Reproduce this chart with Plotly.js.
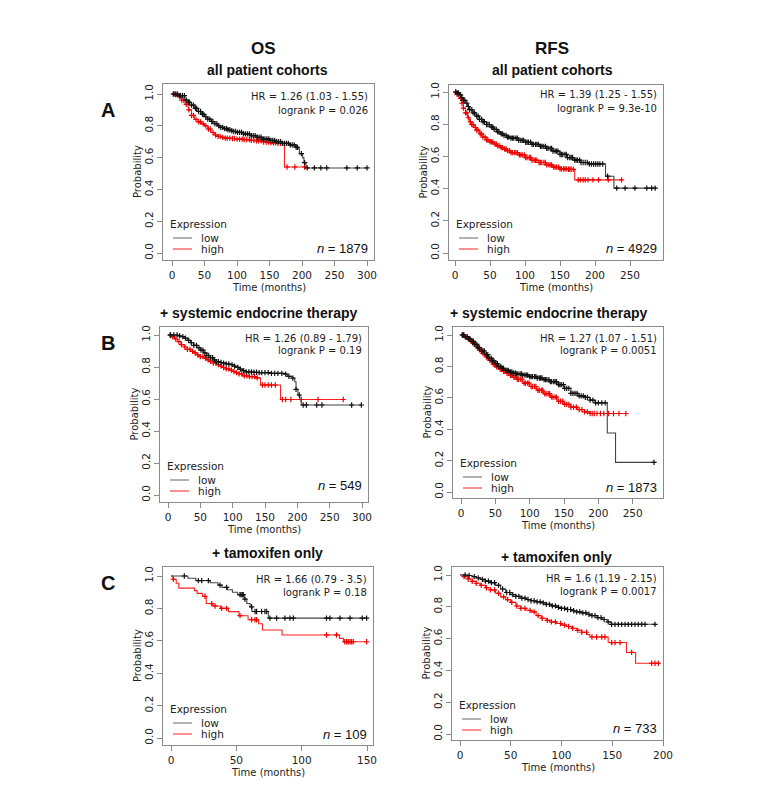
<!DOCTYPE html>
<html><head><meta charset="utf-8">
<script src="https://cdn.plot.ly/plotly-3.0.1.min.js"></script>
<style>html,body{margin:0;padding:0;background:#fff}#chart{width:760px;height:794px}</style>
</head><body><div id="chart"></div><script>
// ---------------- DATA ----------------
const columnTitles = ['OS', 'RFS'];
const rowLetters = ['A', 'B', 'C'];
const rowTitles = ['all patient cohorts', '+ systemic endocrine therapy', '+ tamoxifen only'];
const groupNames = ['low', 'high'];
const hrTexts = ['HR = 1.26 (1.03 - 1.55)', 'HR = 1.39 (1.25 - 1.55)', 'HR = 1.26 (0.89 - 1.79)', 'HR = 1.27 (1.07 - 1.51)', 'HR = 1.66 (0.79 - 3.5)', 'HR = 1.6 (1.19 - 2.15)'];
const pTexts = ['logrank P = 0.026', 'logrank P = 9.3e-10', 'logrank P = 0.19', 'logrank P = 0.0051', 'logrank P = 0.18', 'logrank P = 0.0017'];
const nValues = [1879, 4929, 549, 1873, 109, 733];
const xTicks300 = [0, 50, 100, 150, 200, 250, 300];
const xTicks250 = [0, 50, 100, 150, 200, 250];
const xTicks150 = [0, 50, 100, 150];
const xTicks200 = [0, 50, 100, 150, 200];
const yTickVals = [0, 0.2, 0.4, 0.6, 0.8, 1.0];
const yTickText = ['0.0', '0.2', '0.4', '0.6', '0.8', '1.0'];

// A - OS
const A_OS_low_t = [0,10,20,25,30,35,40,45,50,55,60,65,70,75,80,85,90,95,100,110,120,130,140,150,160,170,180,190,195,196,201,203,206,300];
const A_OS_low_s = [1,0.99,0.962,0.948,0.93,0.91,0.89,0.872,0.857,0.842,0.827,0.813,0.80,0.79,0.782,0.775,0.769,0.764,0.759,0.749,0.738,0.728,0.718,0.708,0.70,0.69,0.68,0.665,0.655,0.625,0.598,0.568,0.535,0.535];
const A_OS_low_c = [2,5,8,11,13,16,19,22,25,27,30,33,36,38,41,44,47,49,52,55,58,61,63,66,69,72,75,78,81,84,86,89,92,95,98,101,104,107,110,113,116,119,122,125,128,131,134,137,140,143,146,149,152,155,158,161,164,167,170,173,176,179,182,185,188,191,193,199,204,208,219,229,238,269,285,300];
const A_OS_high_t = [0,5,10,15,20,25,30,35,40,45,50,55,60,65,70,75,80,90,100,110,120,130,140,150,160,172,173,206];
const A_OS_high_s = [1,0.995,0.985,0.962,0.935,0.90,0.865,0.84,0.825,0.812,0.80,0.78,0.758,0.742,0.733,0.727,0.723,0.72,0.716,0.713,0.709,0.705,0.698,0.693,0.689,0.684,0.541,0.541];
const A_OS_high_c = [3,6,9,12,15,18,22,26,30,33,37,41,44,48,52,56,59,63,67,71,74,78,82,85,89,93,96,100,104,108,111,115,119,122,126,130,133,137,141,145,148,152,156,159,163,167,170,177,189,204];

// A - RFS
const A_RFS_low_t = [0,3,6,9,12,15,18,21,25,30,35,40,45,50,55,60,65,70,75,80,90,100,110,120,130,140,150,160,170,180,190,215,227,287];
const A_RFS_low_s = [1,0.995,0.982,0.965,0.948,0.93,0.91,0.89,0.87,0.85,0.83,0.815,0.798,0.783,0.768,0.752,0.74,0.73,0.72,0.714,0.70,0.688,0.675,0.662,0.65,0.633,0.612,0.593,0.577,0.562,0.553,0.477,0.403,0.403];
const A_RFS_low_c = [1,3,5,8,10,12,14,17,19,21,24,26,28,31,33,35,38,40,42,45,47,49,52,54,56,59,61,63,66,68,70,73,75,77,80,82,84,87,89,91,94,96,98,101,103,105,108,110,112,115,117,119,122,124,126,129,131,133,136,138,140,143,145,147,150,152,154,157,159,161,164,166,168,171,173,175,178,180,183,186,189,192,195,198,201,204,207,211,218,231,243,257,274,281,286];
const A_RFS_high_t = [0,3,6,9,12,15,18,21,24,27,30,35,40,45,50,55,60,65,70,75,80,90,100,110,120,130,140,150,160,170,171,238];
const A_RFS_high_s = [1,0.985,0.96,0.93,0.90,0.87,0.84,0.815,0.797,0.78,0.763,0.74,0.72,0.703,0.69,0.677,0.665,0.655,0.646,0.636,0.624,0.61,0.593,0.576,0.562,0.547,0.533,0.523,0.52,0.517,0.454,0.454];
const A_RFS_high_c = [1,3,5,8,10,12,15,17,19,22,24,26,29,31,33,36,38,40,43,45,47,50,52,54,57,59,61,64,66,68,71,73,75,78,80,82,85,87,89,92,94,96,99,101,103,106,108,110,113,115,117,120,122,124,127,129,131,134,136,138,141,143,145,148,150,152,155,157,159,162,164,166,169,176,179,183,186,190,197,205,219,238];

// B - OS
const B_OS_low_t = [0,15,20,25,30,35,40,45,50,55,60,65,70,75,80,85,90,95,100,105,110,115,120,130,140,160,180,185,192,196,198,201,204,206,300];
const B_OS_low_s = [1,0.995,0.99,0.98,0.967,0.952,0.935,0.92,0.905,0.888,0.872,0.858,0.845,0.833,0.828,0.824,0.82,0.815,0.806,0.798,0.787,0.777,0.77,0.767,0.765,0.76,0.755,0.742,0.73,0.708,0.66,0.625,0.595,0.5625,0.5625];
const B_OS_low_c = [4,9,14,18,23,27,32,36,40,44,48,51,54,57,60,63,66,69,72,75,78,82,86,90,94,99,103,108,112,117,121,125,129,133,137,141,145,150,155,160,165,170,176,182,187,193,198,203,209,214,230,238,284,299];
const B_OS_high_t = [0,5,10,15,20,25,30,35,40,45,50,55,60,65,70,75,80,85,90,95,100,105,110,115,125,135,143,174,271];
const B_OS_high_s = [1,0.99,0.975,0.958,0.94,0.925,0.91,0.898,0.888,0.876,0.865,0.855,0.845,0.835,0.825,0.815,0.805,0.797,0.788,0.78,0.772,0.765,0.757,0.745,0.74,0.732,0.6875,0.597,0.597];
const B_OS_high_c = [3,7,12,17,21,26,30,34,38,42,46,50,54,58,62,66,70,74,78,82,86,90,94,98,102,106,110,114,118,122,126,130,134,138,146,150,155,160,166,177,182,190,206,232,271];

// B - RFS
const B_RFS_low_t = [0,5,10,15,20,25,30,35,40,45,50,55,60,65,70,75,80,90,100,110,120,130,140,150,160,170,180,188,195,213,225,282];
const B_RFS_low_s = [1,0.99,0.975,0.96,0.94,0.918,0.898,0.875,0.853,0.835,0.817,0.80,0.787,0.775,0.765,0.758,0.752,0.744,0.735,0.726,0.716,0.703,0.684,0.66,0.628,0.612,0.603,0.585,0.568,0.376,0.189,0.189];
const B_RFS_low_c = [2,4,6,9,11,13,16,18,20,23,25,27,30,32,34,37,39,41,44,46,48,51,53,55,58,60,62,65,67,69,72,74,76,79,81,83,86,88,90,93,95,97,100,102,104,107,109,111,114,116,118,121,123,125,128,130,132,135,137,139,142,144,146,149,151,154,157,160,163,166,169,172,175,178,181,184,188,192,196,200,205,210,281];
const B_RFS_high_t = [0,5,10,15,20,25,30,35,40,45,50,55,60,65,70,75,80,90,100,110,120,130,140,150,160,170,180,188,240];
const B_RFS_high_s = [1,0.985,0.97,0.95,0.928,0.905,0.882,0.86,0.838,0.815,0.797,0.782,0.768,0.755,0.743,0.73,0.718,0.694,0.672,0.648,0.626,0.604,0.578,0.558,0.54,0.525,0.51,0.50,0.50];
const B_RFS_high_c = [2,4,7,9,12,14,17,19,22,24,27,29,32,34,37,39,42,44,47,49,52,54,57,59,62,64,67,69,72,74,77,79,82,84,87,89,92,94,97,99,102,104,107,109,112,114,117,119,122,124,127,129,132,134,137,139,142,145,148,151,154,157,160,164,168,172,176,180,184,188,191,194,198,203,208,215,222,230,240];

// C - OS
const C_OS_low_t = [0,13,19,30,36,39,43,47,51,56,58,60.5,62,74.5,150];
const C_OS_low_s = [1,0.986,0.972,0.958,0.944,0.93,0.915,0.90,0.885,0.857,0.83,0.81,0.781,0.74,0.74];
const C_OS_low_c = [10.2,20.9,23.5,28.6,37.5,42.6,52.8,53.6,54.6,55.3,56.6,61.7,64.3,65.5,69.4,71.9,73.2,75.7,80.8,87.2,91,93.6,119,121.6,129.3,137,146.4,149.7];
const C_OS_high_t = [0,1.5,4,6,18,20,24,27,32,38,44,52,59,67,70,85,129,132,150];
const C_OS_high_s = [1,0.98,0.955,0.925,0.91,0.893,0.875,0.83,0.815,0.80,0.78,0.755,0.73,0.705,0.667,0.636,0.615,0.594,0.594];
const C_OS_high_c = [1.8,26,31.1,33.7,38.8,42.6,52.8,61.7,64.3,65.5,119,126.7,133,134.4,135.7,137,138.2,139.5,149.7];

// C - RFS
const C_RFS_low_t = [0,8,12,16,20,25,30,35,40,45,50,55,60,65,70,75,80,85,90,95,100,105,110,115,120,125,130,135,140,145,149,193];
const C_RFS_low_s = [1,0.997,0.99,0.982,0.973,0.962,0.952,0.935,0.912,0.89,0.877,0.866,0.855,0.846,0.838,0.831,0.825,0.815,0.806,0.797,0.79,0.783,0.775,0.768,0.762,0.753,0.745,0.732,0.72,0.705,0.69,0.69];
const C_RFS_low_c = [5,9,14,18,22,25,28,31,34,38,42,46,49,52,55,58,61,64,67,70,73,76,79,82,85,88,91,94,97,100,103,106,109,112,115,118,121,124,127,130,133,136,139,142,146,149.4,152.7,156,159.3,162.6,165.8,169.1,172.4,175.7,179,182.3,192.1];
const C_RFS_high_t = [0,4,8,12,16,20,25,30,35,40,45,50,55,60,65,70,75,80,85,90,95,100,105,110,115,120,125,128,146,164,173,197];
const C_RFS_high_s = [1,0.99,0.975,0.96,0.948,0.935,0.92,0.907,0.885,0.862,0.845,0.828,0.805,0.79,0.778,0.768,0.745,0.728,0.715,0.705,0.695,0.685,0.676,0.665,0.652,0.64,0.625,0.61,0.575,0.513,0.445,0.445];
const C_RFS_high_c = [4,8,12,16,21,26,30,34,38,43,47,51,56,60,64,69,73,77,81,86,90,94,99,103,107,111,116,120,124.8,130,134.6,139.6,142.8,149.4,152.7,157.7,169.1,188.8,192.1,195.4];

// ---------------- LAYOUT (positions in page pixels) ----------------
const W = 760, H = 794;
const panels = [
  {frame:[163,84,374,260], xcal:[0,172,300,367], ycal:[94,253], ticks:xTicks300, nOff:5,
   low:[A_OS_low_t,A_OS_low_s,A_OS_low_c], high:[A_OS_high_t,A_OS_high_s,A_OS_high_c]},
  {frame:[449,85,663,260], xcal:[0,455,250,630], ycal:[92,253], ticks:xTicks250, nOff:5,
   low:[A_RFS_low_t,A_RFS_low_s,A_RFS_low_c], high:[A_RFS_high_t,A_RFS_high_s,A_RFS_high_c]},
  {frame:[160,327,368,502], xcal:[0,168,300,362], ycal:[335,495], ticks:xTicks300, nOff:9,
   low:[B_OS_low_t,B_OS_low_s,B_OS_low_c], high:[B_OS_high_t,B_OS_high_s,B_OS_high_c]},
  {frame:[453,327,663,498], xcal:[0,461,250,632.7], ycal:[335,492], ticks:xTicks250, nOff:5,
   low:[B_RFS_low_t,B_RFS_low_s,B_RFS_low_c], high:[B_RFS_high_t,B_RFS_high_s,B_RFS_high_c]},
  {frame:[163,567,373,745], xcal:[0,171,150,367], ycal:[576,738], ticks:xTicks150, nOff:4,
   low:[C_OS_low_t,C_OS_low_s,C_OS_low_c], high:[C_OS_high_t,C_OS_high_s,C_OS_high_c]},
  {frame:[452,567,663,740], xcal:[0,460,200,663], ycal:[575,734], ticks:xTicks200, nOff:6,
   low:[C_RFS_low_t,C_RFS_low_s,C_RFS_low_c], high:[C_RFS_high_t,C_RFS_high_s,C_RFS_high_c]}
];
const colTitlePos = [[263,48],[552,48]];
const rowTitlePos = [[[267,70],[552,70]],[[258,313],[548,313]],[[267,553],[556,557]]];
const letterPos = [[108,110],[108,343],[108,583]];

const LOW_LINE = '#444', LOW_MARK = '#111', HIGH_LINE = '#f22', HIGH_MARK = '#e00';
const TXT = '#222', FRAME = '#8a8a8a';
const plotFont = 'DejaVu Sans, Verdana, sans-serif';
const titleFont = 'Liberation Sans, Arial, sans-serif';

function X(px){ return px / W; }
function Y(py){ return 1 - py / H; }
function stepAt(T, S, x){ let v = S[0]; for (let i = 0; i < T.length; i++){ if (T[i] <= x) v = S[i]; else break; } return v; }

const traces = [];
const layout = {
  width: W, height: H, margin:{l:0,r:0,t:0,b:0}, paper_bgcolor:'#fff', plot_bgcolor:'#fff',
  showlegend:false, annotations:[], shapes:[], hovermode:false
};

panels.forEach((p, i) => {
  const n = i + 1;
  const [l, t, r, b] = p.frame;
  const [v0, px0, v1, px1] = p.xcal;
  const k = (px1 - px0) / (v1 - v0);
  const [y1px, y0px] = p.ycal;
  const m = y0px - y1px;
  const xr = [v0 + (l - px0) / k, v0 + (r - px0) / k];
  const yr = [(y0px - b) / m, (y0px - t) / m];
  const xa = 'x' + n, ya = 'y' + n;
  const axBase = {showline:true, mirror:true, linecolor:FRAME, linewidth:1, showgrid:false, zeroline:false,
    ticks:'outside', ticklen:5, tickcolor:FRAME, tickwidth:1, tickfont:{family:plotFont, size:10.5, color:TXT}, fixedrange:true};
  layout['xaxis' + n] = Object.assign({}, axBase, {domain:[X(l), X(r)], range:xr, anchor:ya, tickvals:p.ticks, ticktext:p.ticks.map(String)});
  layout['yaxis' + n] = Object.assign({}, axBase, {domain:[Y(b), Y(t)], range:yr, anchor:xa, tickvals:yTickVals, ticktext:yTickText, tickangle:-90});

  [['high', HIGH_LINE, HIGH_MARK], ['low', LOW_LINE, LOW_MARK]].forEach(([g, lc, mc]) => {
    const [T, S, C] = p[g];
    traces.push({x:T, y:S, xaxis:xa, yaxis:ya, mode:'lines', line:{shape:'hv', color:lc, width:1.1}, hoverinfo:'skip'});
    traces.push({x:C, y:C.map(c => stepAt(T, S, c)), xaxis:xa, yaxis:ya, mode:'markers',
      marker:{symbol:'cross-thin-open', size:3.8, color:mc, line:{width:1.2, color:mc}}, hoverinfo:'skip'});
  });

  const ann = layout.annotations;
  ann.push({xref:'paper', yref:'paper', x:X(r-4), y:Y(y1px+3), xanchor:'right', yanchor:'middle', text:hrTexts[i], showarrow:false, font:{family:plotFont, size:10, color:TXT}});
  ann.push({xref:'paper', yref:'paper', x:X(r-4), y:Y(y1px+16), xanchor:'right', yanchor:'middle', text:pTexts[i], showarrow:false, font:{family:plotFont, size:10, color:TXT}});
  ann.push({xref:'paper', yref:'paper', x:X(r-4), y:Y(y0px-p.nOff), xanchor:'right', yanchor:'middle', text:'<i>n</i> = ' + nValues[i], showarrow:false, font:{family:titleFont, size:13, color:'#111'}});
  ann.push({xref:'paper', yref:'paper', x:X(l+5), y:Y(y0px-29), xanchor:'left', yanchor:'middle', text:'Expression', showarrow:false, font:{family:plotFont, size:10.5, color:TXT}});
  [[groupNames[0], y0px-15, '#666'], [groupNames[1], y0px-4, HIGH_LINE]].forEach(([txt, yy, col]) => {
    ann.push({xref:'paper', yref:'paper', x:X(l+36), y:Y(yy), xanchor:'left', yanchor:'middle', text:txt, showarrow:false, font:{family:plotFont, size:10.5, color:TXT}});
    layout.shapes.push({type:'line', xref:'paper', yref:'paper', x0:X(l+10), x1:X(l+29), y0:Y(yy), y1:Y(yy), line:{color:col, width:1}});
  });
  ann.push({xref:'paper', yref:'paper', x:X(l-26), y:Y((t+b)/2), xanchor:'center', yanchor:'middle', textangle:-90, text:'Probability', showarrow:false, font:{family:plotFont, size:10, color:TXT}});
  ann.push({xref:'paper', yref:'paper', x:X((l+r)/2), y:Y(b+27), xanchor:'center', yanchor:'middle', text:'Time (months)', showarrow:false, font:{family:plotFont, size:10, color:TXT}});
});

columnTitles.forEach((s, j) => layout.annotations.push({xref:'paper', yref:'paper', x:X(colTitlePos[j][0]), y:Y(colTitlePos[j][1]), xanchor:'center', yanchor:'middle', text:'<b>' + s + '</b>', showarrow:false, font:{family:titleFont, size:17, color:'#111'}}));
rowTitles.forEach((s, ri) => rowTitlePos[ri].forEach(pp => layout.annotations.push({xref:'paper', yref:'paper', x:X(pp[0]), y:Y(pp[1]), xanchor:'center', yanchor:'middle', text:'<b>' + s + '</b>', showarrow:false, font:{family:titleFont, size:14, color:'#111'}})));
rowLetters.forEach((s, ri) => layout.annotations.push({xref:'paper', yref:'paper', x:X(letterPos[ri][0]), y:Y(letterPos[ri][1]), xanchor:'center', yanchor:'middle', text:'<b>' + s + '</b>', showarrow:false, font:{family:titleFont, size:20, color:'#111'}}));

Plotly.newPlot('chart', traces, layout, {staticPlot:true, displayModeBar:false});
</script></body></html>
